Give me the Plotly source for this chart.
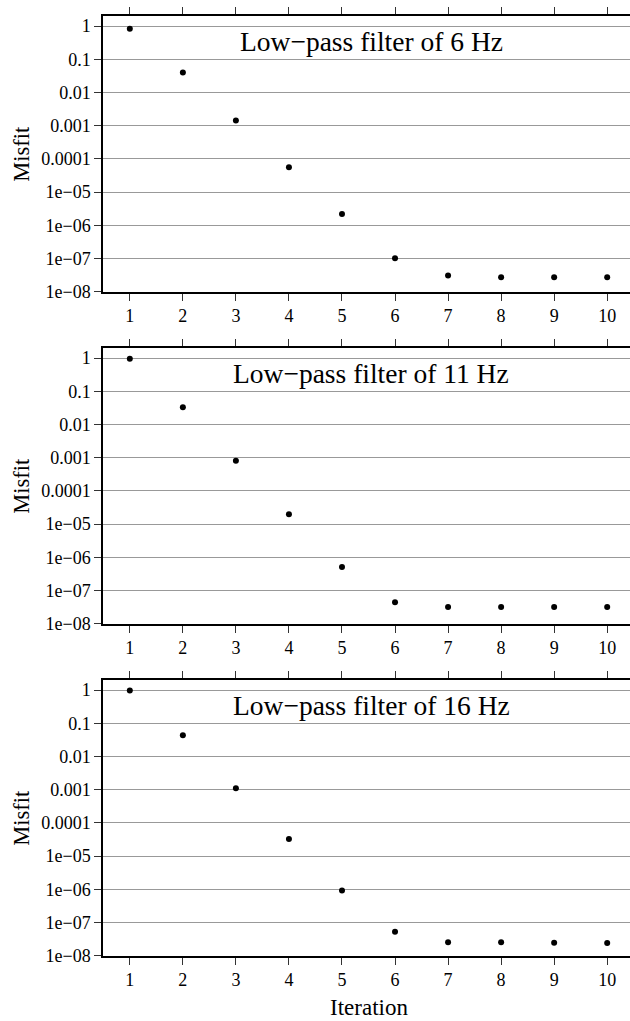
import plotly.graph_objects as go

iterations = list(range(1, 11))
misfit_6hz = [0.83, 0.04, 0.00144, 5.6e-5, 2.2e-6, 1.03e-7, 3.1e-8, 2.74e-8, 2.74e-8, 2.74e-8]
misfit_11hz = [0.95, 0.033, 8.1e-4, 2.0e-5, 5.1e-7, 4.5e-8, 3.2e-8, 3.2e-8, 3.2e-8, 3.2e-8]
misfit_16hz = [0.97, 0.044, 0.0011, 3.3e-5, 9.3e-7, 5.3e-8, 2.55e-8, 2.55e-8, 2.5e-8, 2.45e-8]
panel_titles = ["Low\u2212pass filter of 6 Hz", "Low\u2212pass filter of 11 Hz", "Low\u2212pass filter of 16 Hz"]
y_tickvals = [1, 0.1, 0.01, 0.001, 0.0001, 1e-5, 1e-6, 1e-7, 1e-8]
y_ticktext = ["1", "0.1", "0.01", "0.001", "0.0001", "1e\u221205", "1e\u221206", "1e\u221207", "1e\u221208"]
x_tickvals = iterations

W, H = 630, 1021
FONT = "Liberation Serif"
series = [misfit_6hz, misfit_11hz, misfit_16hz]

# panel pixel positions (top, bottom)
panels_px = [(16.0, 294.7), (351.3, 630.0), (686.6, 965.3)]

fig = go.Figure()
annotations = []
for i, (vals, title) in enumerate(zip(series, panel_titles)):
    n = "" if i == 0 else str(i + 1)
    top, bot = panels_px[i]
    dom = [1 - bot / H, 1 - top / H]
    fig.add_trace(go.Scatter(
        x=iterations, y=vals, mode="markers",
        marker=dict(color="black", size=6),
        xaxis="x" + n, yaxis="y" + n, showlegend=False,
        cliponaxis=False,
    ))
    fig.layout["xaxis" + n] = dict(
        domain=[103.3 / W, 1], anchor="y" + n,
        range=[0.5, 10.43], tickvals=x_tickvals,
        ticks="outside", ticklen=7, tickwidth=1, tickcolor="#333",
        showline=True, linewidth=2, linecolor="black", mirror="ticks",
        showgrid=False, zeroline=False,
        tickfont=dict(family=FONT, size=18, color="black"),
    )
    fig.layout["yaxis" + n] = dict(
        domain=dom, anchor="x" + n, type="log",
        range=[-8, 0.307], tickvals=y_tickvals, ticktext=y_ticktext,
        ticks="outside", ticklen=7, tickwidth=1, tickcolor="#333",
        showline=True, linewidth=2, linecolor="black", mirror=False,
        showgrid=True, gridcolor="#999999", gridwidth=1, zeroline=False,
        tickfont=dict(family=FONT, size=18, color="black"),
    )
    annotations.append(dict(
        x=5.55, xref="x" + n, y=1 - (top + 26) / H, yref="paper",
        text=title, showarrow=False, xanchor="center", yanchor="middle",
        font=dict(family=FONT, size=27.5, color="black"),
    ))
    annotations.append(dict(
        x=22 / W, xref="paper", y=1 - (top + bot) / 2 / H, yref="paper",
        text="Misfit", showarrow=False, textangle=-90,
        xanchor="center", yanchor="middle",
        font=dict(family=FONT, size=22.5, color="black"),
    ))

annotations.append(dict(
    x=5.5, xref="x3", y=1 - 1017 / H, yref="paper",
    text="Iteration", showarrow=False, xanchor="center", yanchor="middle",
    font=dict(family=FONT, size=23, color="black"),
))

fig.update_layout(
    width=W, height=H, margin=dict(l=0, r=0, t=0, b=0),
    paper_bgcolor="white", plot_bgcolor="white",
    annotations=annotations,
    font=dict(family=FONT, color="black"),
)

fig.write_html("out.html")
